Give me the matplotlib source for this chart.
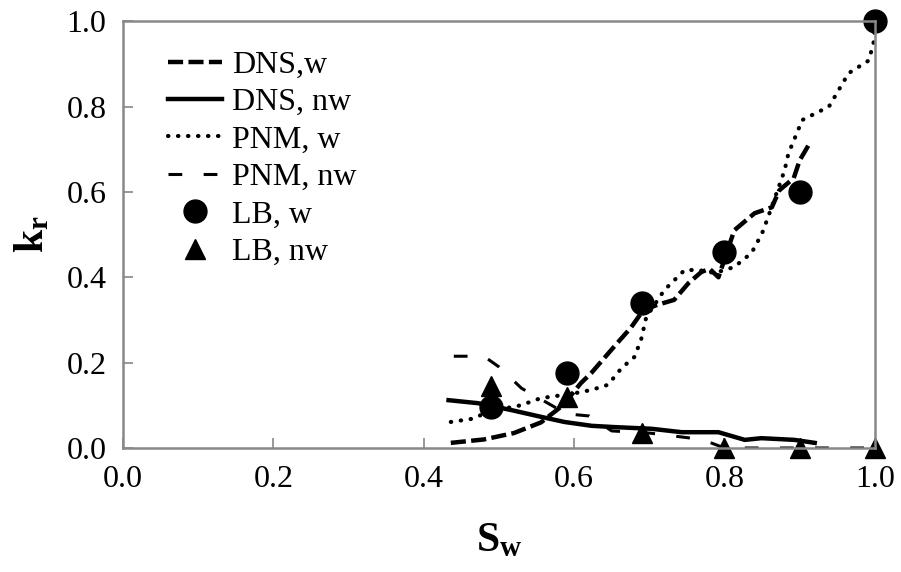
import matplotlib
matplotlib.use('Agg')
import matplotlib.pyplot as plt

plt.rcParams['font.family'] = ['Liberation Serif', 'DejaVu Serif']
plt.rcParams['mathtext.fontset'] = 'custom'
plt.rcParams['mathtext.rm'] = 'Liberation Serif'
plt.rcParams['mathtext.bf'] = 'Liberation Serif:bold'

# DNS, wetting phase
dns_w_x = [0.436, 0.48, 0.52, 0.556, 0.585, 0.609, 0.623, 0.653, 0.676, 0.692, 0.71, 0.733,
           0.752, 0.769, 0.78, 0.792, 0.813, 0.84, 0.863, 0.873, 0.892, 0.9, 0.912]
dns_w_y = [0.012, 0.02, 0.035, 0.06, 0.1, 0.152, 0.176, 0.237, 0.283, 0.323, 0.335, 0.347,
           0.386, 0.412, 0.42, 0.40, 0.51, 0.55, 0.564, 0.604, 0.632, 0.674, 0.71]

# DNS, non-wetting phase
dns_nw_x = [0.433, 0.472, 0.516, 0.556, 0.587, 0.623, 0.653, 0.703, 0.743, 0.792, 0.827, 0.849, 0.893, 0.92]
dns_nw_y = [0.112, 0.105, 0.089, 0.073, 0.061, 0.052, 0.049, 0.045, 0.037, 0.037, 0.019, 0.023, 0.019, 0.012]

# PNM, wetting phase
pnm_w_x = [0.436, 0.463, 0.476, 0.50, 0.529, 0.556, 0.569, 0.6, 0.623, 0.645, 0.663, 0.68, 0.689,
           0.696, 0.72, 0.747, 0.765, 0.787, 0.813, 0.836, 0.85, 0.858, 0.88, 0.885, 0.898,
           0.903, 0.939, 0.965, 0.992, 0.999, 1.0]
pnm_w_y = [0.061, 0.068, 0.077, 0.09, 0.10, 0.117, 0.12, 0.128, 0.136, 0.148, 0.187, 0.213, 0.253,
           0.307, 0.37, 0.417, 0.417, 0.41, 0.424, 0.457, 0.503, 0.541, 0.651, 0.69, 0.745,
           0.768, 0.80, 0.878, 0.908, 0.955, 1.0]

# PNM, non-wetting phase
pnm_nw_x = [0.44, 0.48, 0.50, 0.53, 0.56, 0.59, 0.62, 0.65, 0.70, 0.77, 0.80, 1.0]
pnm_nw_y = [0.215, 0.215, 0.19, 0.14, 0.11, 0.08, 0.075, 0.04, 0.035, 0.02, 0.0, 0.0]

# LB results
lb_x = [0.49, 0.59, 0.69, 0.80, 0.90, 1.0]
lb_w_y = [0.095, 0.175, 0.34, 0.46, 0.60, 1.0]
lb_nw_y = [0.145, 0.12, 0.035, 0.0, 0.0, 0.0]

fig = plt.figure(figsize=(9.01, 5.72), dpi=100)
ax = fig.add_axes([0.1365, 0.2168, 0.8345, 0.7462])

ax.plot(dns_w_x, dns_w_y, color='black', lw=3.2, dashes=(3.4, 1.2), label='DNS,w')
ax.plot(dns_nw_x, dns_nw_y, color='black', lw=3.2, label='DNS, nw')
ax.plot(pnm_w_x, pnm_w_y, color='black', lw=3.0, linestyle=(0, (0.1, 2.3)),
        dash_capstyle='round', label='PNM, w')
ax.plot(pnm_nw_x, pnm_nw_y, color='black', lw=2.2, dashes=(4.5, 7), label='PNM, nw')
ax.plot(lb_x, lb_w_y, 'o', color='black', ms=16.5, clip_on=False, label='LB, w')
ax.plot(lb_x, lb_nw_y, '^', color='black', ms=15, clip_on=False, label='LB, nw')

ax.set_xlim(0, 1)
ax.set_ylim(0, 1)
ax.set_xticks([0.0, 0.2, 0.4, 0.6, 0.8, 1.0])
ax.set_yticks([0.0, 0.2, 0.4, 0.6, 0.8, 1.0])
ax.xaxis.set_major_formatter(matplotlib.ticker.FormatStrFormatter('%.1f'))
ax.yaxis.set_major_formatter(matplotlib.ticker.FormatStrFormatter('%.1f'))
ax.tick_params(direction='in', length=7, width=1.2, color='#888888', labelsize=23, pad=12)
for s in ax.spines.values():
    s.set_color('#888888')
    s.set_linewidth(1.8)

ax.set_xlabel(r'$\mathbf{S_w}$', fontsize=30, labelpad=20)
ax.set_ylabel(r'$\mathbf{k_r}$', fontsize=30, labelpad=10)

leg = ax.legend(loc='upper left', bbox_to_anchor=(0.06, 0.931), frameon=False, fontsize=23,
                handlelength=1.7, handletextpad=0.3, labelspacing=0.25, borderaxespad=0,
                borderpad=0)

fig.savefig('out.png', dpi=100)
